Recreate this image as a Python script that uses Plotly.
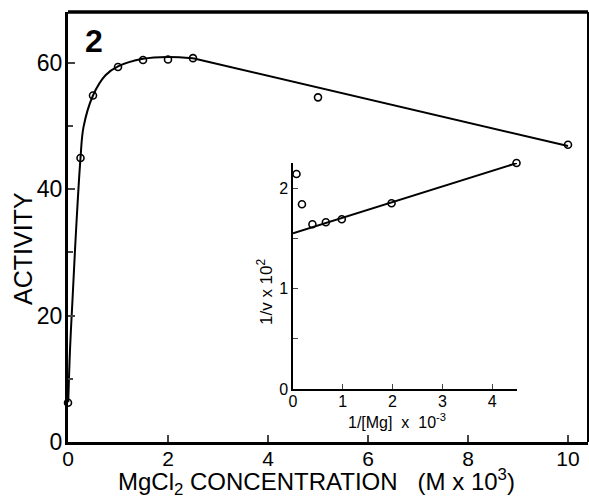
import plotly.graph_objects as go

# Main plot: measured points
conc = [0.0, 0.25, 0.5, 1.0, 1.5, 2.0, 2.5, 5.0, 10.0]
activity = [6.2, 44.9, 54.8, 59.3, 60.4, 60.5, 60.7, 54.5, 47.0]

# Main plot: drawn curve
curve_x = [0.005, 0.04, 0.09, 0.16, 0.25, 0.31, 0.5, 0.75, 1.0, 1.5, 2.0, 2.5]
curve_y = [6.3, 14.6, 22.5, 33.3, 44.9, 49.8, 54.8, 58.0, 59.4, 60.6, 60.9, 60.7]
line_x = [2.5, 10.0]
line_y = [60.7, 46.8]

# Inset: double reciprocal plot
inv_mg = [0.07, 0.18, 0.39, 0.66, 0.98, 1.98, 4.49]
inv_v = [2.14, 1.84, 1.64, 1.66, 1.69, 1.85, 2.25]
fit_x = [0.0, 4.5]
fit_y = [1.55, 2.25]

main_ticks_x = [0, 2, 4, 6, 8, 10]
main_ticks_y = [0, 20, 40, 60]
inset_ticks_x = [0, 1, 2, 3, 4]
inset_ticks_y = [0, 1, 2]

FONT = "Liberation Sans"
BLACK = "black"

fig = go.Figure()
fig.add_trace(go.Scatter(x=curve_x, y=curve_y, mode="lines",
                         line=dict(color=BLACK, width=2, shape="spline", smoothing=1.0),
                         showlegend=False, hoverinfo="skip"))
fig.add_trace(go.Scatter(x=line_x, y=line_y, mode="lines",
                         line=dict(color=BLACK, width=2), showlegend=False, hoverinfo="skip"))
fig.add_trace(go.Scatter(x=conc, y=activity, mode="markers", cliponaxis=False,
                         marker=dict(symbol="circle-open", size=7, color=BLACK, line=dict(width=1.6)),
                         showlegend=False))
fig.add_trace(go.Scatter(x=fit_x, y=fit_y, mode="lines", xaxis="x2", yaxis="y2",
                         line=dict(color=BLACK, width=2), showlegend=False, hoverinfo="skip"))
fig.add_trace(go.Scatter(x=inv_mg, y=inv_v, mode="markers", xaxis="x2", yaxis="y2",
                         cliponaxis=False,
                         marker=dict(symbol="circle-open", size=7, color=BLACK, line=dict(width=1.6)),
                         showlegend=False))

fig.update_layout(
    width=589, height=502,
    margin=dict(l=68, r=1, t=12, b=60),
    paper_bgcolor="white", plot_bgcolor="white",
    font=dict(family=FONT, color=BLACK),
    xaxis=dict(range=[0, 10.4], tickvals=main_ticks_x, ticks="inside", ticklen=7, tickwidth=2,
               showline=True, linewidth=3, linecolor=BLACK, mirror=False, automargin=False,
               showgrid=False, zeroline=False, tickfont=dict(size=21, family=FONT),
               ticklabelstandoff=-4),
    yaxis=dict(range=[0, 68], tickvals=main_ticks_y, ticks="inside", ticklen=7, tickwidth=2,
               showline=True, linewidth=3, linecolor=BLACK, mirror=False, automargin=False,
               showgrid=False, zeroline=False, tickfont=dict(size=23, family=FONT),
               ticklabelstandoff=-2,
               minor=dict(dtick=10, ticks="inside", ticklen=5, tickwidth=1.5, showgrid=False)),
    xaxis2=dict(domain=[0.4327, 0.8635], anchor="y2", range=[0, 4.5], tickvals=inset_ticks_x,
                ticks="inside", ticklen=5, tickwidth=1.2, showline=True, linewidth=1.5,
                linecolor=BLACK, showgrid=False, zeroline=False, ticklabelstandoff=-3,
                tickfont=dict(size=16, family=FONT)),
    yaxis2=dict(domain=[0.1233, 0.6488], anchor="x2", range=[0, 2.25], tickvals=inset_ticks_y,
                ticks="inside", ticklen=5, tickwidth=1.2, showline=True, linewidth=1.5,
                linecolor=BLACK, showgrid=False, zeroline=False,
                tickfont=dict(size=16, family=FONT),
                minor=dict(dtick=0.5, ticks="inside", ticklen=5, tickwidth=1.2, showgrid=False)),
    shapes=[
        dict(type="line", xref="paper", yref="paper", x0=0, x1=1, y0=1, y1=1,
             line=dict(color=BLACK, width=3.5)),
        dict(type="line", xref="paper", yref="paper", x0=1, x1=1, y0=0, y1=1,
             line=dict(color=BLACK, width=2)),
    ],
    annotations=[
        dict(text="<b>2</b>", x=0.05, y=0.9326, xref="paper", yref="paper", showarrow=False,
             font=dict(size=32, family=FONT), xanchor="center", yanchor="middle"),
        dict(text="ACTIVITY", x=-0.0865, y=0.449, xref="paper", yref="paper", showarrow=False,
             textangle=-90, font=dict(size=25, family=FONT), xanchor="center", yanchor="middle"),
        dict(text="MgCl<sub>2</sub> CONCENTRATION&nbsp;&nbsp;&nbsp;(M x 10<sup>3</sup>)",
             x=0.477, y=-0.094, xref="paper", yref="paper", showarrow=False,
             font=dict(size=24, family=FONT), xanchor="center", yanchor="middle"),
        dict(text="1/v x 10<sup>2</sup>", x=0.379, y=0.349, xref="paper", yref="paper",
             showarrow=False, textangle=-90, font=dict(size=17, family=FONT),
             xanchor="center", yanchor="middle"),
        dict(text="1/[Mg]&nbsp;&nbsp;x&nbsp;&nbsp;10<sup>-3</sup>", x=0.633, y=0.048, xref="paper",
             yref="paper", showarrow=False, font=dict(size=16, family=FONT),
             xanchor="center", yanchor="middle"),
    ],
)

fig.write_html("out.html", config={"displayModeBar": False},
               post_script="document.body.style.margin='0px';")
